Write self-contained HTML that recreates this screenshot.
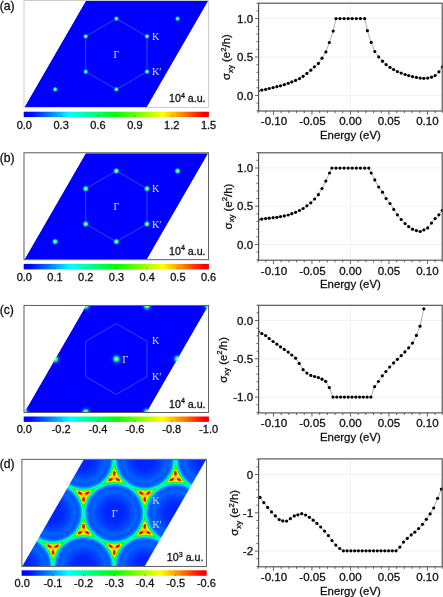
<!DOCTYPE html>
<html lang="en"><head><meta charset="utf-8"><title>Figure</title>
<style>html,body{margin:0;padding:0;background:#fff;}body{width:443px;height:597px;overflow:hidden;}svg{display:block;}text{font-family:"Liberation Sans", Arial, sans-serif;fill:#111;stroke:#111;stroke-width:0.3px;}.sf{font-family:"Liberation Serif", "Times New Roman", serif;fill:#c6e8ff;stroke:none;}</style></head><body>
<svg width="443" height="597" viewBox="0 0 443 597">
<defs>
<linearGradient id="cb" x1="0" y1="0" x2="1" y2="0"><stop offset="0" stop-color="#0000ff"/><stop offset="0.04" stop-color="#0008ff"/><stop offset="0.25" stop-color="#00ffff"/><stop offset="0.5" stop-color="#00ff00"/><stop offset="0.75" stop-color="#ffff00"/><stop offset="0.97" stop-color="#ff0000"/><stop offset="1" stop-color="#f00000"/></linearGradient>
<radialGradient id="dotS"><stop offset="0" stop-color="#f0d800"/><stop offset="0.16" stop-color="#c0ff10"/><stop offset="0.34" stop-color="#30ff70"/><stop offset="0.52" stop-color="#00d8ff" stop-opacity="0.95"/><stop offset="0.74" stop-color="#0070ff" stop-opacity="0.55"/><stop offset="1" stop-color="#0000ff" stop-opacity="0"/></radialGradient>
<radialGradient id="dotL"><stop offset="0" stop-color="#ff9800"/><stop offset="0.10" stop-color="#f4ff00"/><stop offset="0.22" stop-color="#30ff40"/><stop offset="0.34" stop-color="#00e0ff" stop-opacity="0.95"/><stop offset="0.5" stop-color="#0070ff" stop-opacity="0.65"/><stop offset="0.72" stop-color="#0030ff" stop-opacity="0.35"/><stop offset="1" stop-color="#0000ff" stop-opacity="0"/></radialGradient>
<radialGradient id="gd" gradientUnits="objectBoundingBox">
<stop offset="0.0000" stop-color="rgb(10,10,10)"/>
<stop offset="0.1957" stop-color="rgb(10,10,10)"/>
<stop offset="0.3478" stop-color="rgb(17,17,17)"/>
<stop offset="0.4674" stop-color="rgb(26,26,26)"/>
<stop offset="0.5326" stop-color="rgb(22,22,22)"/>
<stop offset="0.5652" stop-color="rgb(24,24,24)"/>
<stop offset="0.5913" stop-color="rgb(32,32,32)"/>
<stop offset="0.6130" stop-color="rgb(43,43,43)"/>
<stop offset="0.6304" stop-color="rgb(54,54,54)"/>
<stop offset="0.6435" stop-color="rgb(71,71,71)"/>
<stop offset="0.6543" stop-color="rgb(89,89,89)"/>
<stop offset="0.6630" stop-color="rgb(105,105,105)"/>
<stop offset="0.6739" stop-color="rgb(112,112,112)"/>
<stop offset="1.0000" stop-color="rgb(112,112,112)"/>
</radialGradient>
<radialGradient id="sp"><stop offset="0" stop-color="#ffffff"/><stop offset="0.3" stop-color="#fbfbfb"/><stop offset="0.6" stop-color="#eeeeee"/><stop offset="0.85" stop-color="#d6d6d6"/><stop offset="1" stop-color="#b0b0b0"/></radialGradient>
<filter id="jet" x="0" y="0" width="1" height="1" color-interpolation-filters="sRGB"><feGaussianBlur stdDeviation="0.75"/><feComponentTransfer><feFuncR type="table" tableValues="0.000 0.000 0.000 0.000 0.000 0.000 0.000 0.000 0.000 0.000 0.000 0.000 0.000 0.000 0.000 0.000 0.000 0.000 0.000 0.000 0.000 0.000 0.000 0.000 0.000 0.000 0.000 0.000 0.000 0.000 0.000 0.000 0.000 0.062 0.125 0.188 0.250 0.312 0.375 0.438 0.500 0.562 0.625 0.688 0.750 0.812 0.875 0.938 1.000 1.000 1.000 1.000 1.000 1.000 1.000 1.000 1.000 1.000 1.000 1.000 1.000 1.000 1.000 0.944 0.882"/><feFuncG type="table" tableValues="0.000 0.060 0.120 0.180 0.240 0.300 0.361 0.421 0.481 0.541 0.601 0.661 0.721 0.781 0.841 0.901 0.962 1.000 1.000 1.000 1.000 1.000 1.000 1.000 1.000 1.000 1.000 1.000 1.000 1.000 1.000 1.000 1.000 1.000 1.000 1.000 1.000 1.000 1.000 1.000 1.000 1.000 1.000 1.000 1.000 1.000 1.000 1.000 1.000 0.929 0.858 0.787 0.716 0.645 0.574 0.503 0.432 0.361 0.290 0.219 0.148 0.077 0.006 0.000 0.000"/><feFuncB type="table" tableValues="1.000 1.000 1.000 1.000 1.000 1.000 1.000 1.000 1.000 1.000 1.000 1.000 1.000 1.000 1.000 1.000 1.000 0.977 0.911 0.846 0.781 0.716 0.651 0.586 0.521 0.456 0.391 0.326 0.260 0.195 0.130 0.065 0.000 0.000 0.000 0.000 0.000 0.000 0.000 0.000 0.000 0.000 0.000 0.000 0.000 0.000 0.000 0.000 0.000 0.000 0.000 0.000 0.000 0.000 0.000 0.000 0.000 0.000 0.000 0.000 0.000 0.000 0.000 0.000 0.000"/><feFuncA type="linear" slope="0" intercept="1"/></feComponentTransfer></filter>
</defs>
<rect x="0" y="0" width="443" height="597" fill="#ffffff"/>
<clipPath id="clp0"><polygon points="85.73,1.00 208.20,1.00 146.97,107.00 24.50,107.00"/></clipPath>
<g clip-path="url(#clp0)">
<polygon points="85.73,1.00 208.20,1.00 146.97,107.00 24.50,107.00" fill="#0000fe"/>
<polygon points="116.35,18.67 146.97,36.33 146.97,71.67 116.35,89.33 85.73,71.67 85.73,36.33" fill="none" stroke="#60a8ff" stroke-opacity="0.6" stroke-width="0.75"/>
<circle cx="116.35" cy="18.67" r="3.1" fill="url(#dotS)"/>
<circle cx="146.97" cy="36.33" r="3.1" fill="url(#dotS)"/>
<circle cx="146.97" cy="71.67" r="3.1" fill="url(#dotS)"/>
<circle cx="116.35" cy="89.33" r="3.1" fill="url(#dotS)"/>
<circle cx="85.73" cy="71.67" r="3.1" fill="url(#dotS)"/>
<circle cx="85.73" cy="36.33" r="3.1" fill="url(#dotS)"/>
<circle cx="177.58" cy="18.67" r="3.1" fill="url(#dotS)"/>
<circle cx="55.12" cy="89.33" r="3.1" fill="url(#dotS)"/>
</g>
<text class="sf" x="116.55" y="57.60" font-size="10.2" text-anchor="middle">Γ</text>
<text class="sf" x="151.97" y="39.93" font-size="10.2">K</text>
<text class="sf" x="151.97" y="75.27" font-size="10.2">K′</text>
<text x="205.60" y="102.40" font-size="10.65" text-anchor="end">10<tspan dy="-4.6" font-size="7.2">4</tspan><tspan dy="4.6"> a.u.</tspan></text>
<rect x="24.00" y="0.50" width="184.60" height="106.90" fill="none" stroke="#c6c6c6" stroke-width="0.9"/>
<text x="-0.3" y="9.50" font-size="12.2" fill="#111">(a)</text>
<rect x="23.70" y="111.70" width="185.20" height="5.40" fill="url(#cb)"/>
<text x="24.30" y="128.70" font-size="11" text-anchor="middle">0.0</text>
<line x1="61.16" y1="115.50" x2="61.16" y2="117.10" stroke="#203040" stroke-opacity="0.7" stroke-width="0.7"/>
<text x="61.16" y="128.70" font-size="11" text-anchor="middle">0.3</text>
<line x1="98.02" y1="115.50" x2="98.02" y2="117.10" stroke="#203040" stroke-opacity="0.7" stroke-width="0.7"/>
<text x="98.02" y="128.70" font-size="11" text-anchor="middle">0.6</text>
<line x1="134.88" y1="115.50" x2="134.88" y2="117.10" stroke="#203040" stroke-opacity="0.7" stroke-width="0.7"/>
<text x="134.88" y="128.70" font-size="11" text-anchor="middle">0.9</text>
<line x1="171.74" y1="115.50" x2="171.74" y2="117.10" stroke="#203040" stroke-opacity="0.7" stroke-width="0.7"/>
<text x="171.74" y="128.70" font-size="11" text-anchor="middle">1.2</text>
<text x="208.60" y="128.70" font-size="11" text-anchor="middle">1.5</text>
<clipPath id="clp1"><polygon points="85.73,153.30 208.20,153.30 146.97,259.30 24.50,259.30"/></clipPath>
<g clip-path="url(#clp1)">
<polygon points="85.73,153.30 208.20,153.30 146.97,259.30 24.50,259.30" fill="#0000fe"/>
<polygon points="116.35,170.97 146.97,188.63 146.97,223.97 116.35,241.63 85.73,223.97 85.73,188.63" fill="none" stroke="#60a8ff" stroke-opacity="0.6" stroke-width="0.75"/>
<circle cx="116.35" cy="170.97" r="3.8" fill="url(#dotS)"/>
<circle cx="146.97" cy="188.63" r="3.8" fill="url(#dotS)"/>
<circle cx="146.97" cy="223.97" r="3.8" fill="url(#dotS)"/>
<circle cx="116.35" cy="241.63" r="3.8" fill="url(#dotS)"/>
<circle cx="85.73" cy="223.97" r="3.8" fill="url(#dotS)"/>
<circle cx="85.73" cy="188.63" r="3.8" fill="url(#dotS)"/>
<circle cx="177.58" cy="170.97" r="3.8" fill="url(#dotS)"/>
<circle cx="55.12" cy="241.63" r="3.8" fill="url(#dotS)"/>
</g>
<text class="sf" x="116.55" y="209.90" font-size="10.2" text-anchor="middle">Γ</text>
<text class="sf" x="151.97" y="192.23" font-size="10.2">K</text>
<text class="sf" x="151.97" y="227.57" font-size="10.2">K′</text>
<text x="205.60" y="254.70" font-size="10.65" text-anchor="end">10<tspan dy="-4.6" font-size="7.2">4</tspan><tspan dy="4.6"> a.u.</tspan></text>
<rect x="24.00" y="152.80" width="184.60" height="106.90" fill="none" stroke="#4a4a4a" stroke-width="0.9"/>
<text x="-0.3" y="161.80" font-size="12.2" fill="#111">(b)</text>
<rect x="23.70" y="263.90" width="185.20" height="5.50" fill="url(#cb)"/>
<text x="24.30" y="280.50" font-size="11" text-anchor="middle">0.0</text>
<line x1="55.02" y1="267.80" x2="55.02" y2="269.40" stroke="#203040" stroke-opacity="0.7" stroke-width="0.7"/>
<text x="55.02" y="280.50" font-size="11" text-anchor="middle">0.1</text>
<line x1="85.73" y1="267.80" x2="85.73" y2="269.40" stroke="#203040" stroke-opacity="0.7" stroke-width="0.7"/>
<text x="85.73" y="280.50" font-size="11" text-anchor="middle">0.2</text>
<line x1="116.45" y1="267.80" x2="116.45" y2="269.40" stroke="#203040" stroke-opacity="0.7" stroke-width="0.7"/>
<text x="116.45" y="280.50" font-size="11" text-anchor="middle">0.3</text>
<line x1="147.17" y1="267.80" x2="147.17" y2="269.40" stroke="#203040" stroke-opacity="0.7" stroke-width="0.7"/>
<text x="147.17" y="280.50" font-size="11" text-anchor="middle">0.4</text>
<line x1="177.88" y1="267.80" x2="177.88" y2="269.40" stroke="#203040" stroke-opacity="0.7" stroke-width="0.7"/>
<text x="177.88" y="280.50" font-size="11" text-anchor="middle">0.5</text>
<text x="208.60" y="280.50" font-size="11" text-anchor="middle">0.6</text>
<clipPath id="clp2"><polygon points="85.73,305.90 208.20,305.90 146.97,412.10 24.50,412.10"/></clipPath>
<g clip-path="url(#clp2)">
<polygon points="85.73,305.90 208.20,305.90 146.97,412.10 24.50,412.10" fill="#0000fe"/>
<polygon points="116.35,323.60 146.97,341.30 146.97,376.70 116.35,394.40 85.73,376.70 85.73,341.30" fill="none" stroke="#60a8ff" stroke-opacity="0.6" stroke-width="0.75"/>
<circle cx="-97.97" cy="305.90" r="7.2" fill="url(#dotL)"/>
<circle cx="-36.73" cy="305.90" r="7.2" fill="url(#dotL)"/>
<circle cx="24.50" cy="305.90" r="7.2" fill="url(#dotL)"/>
<circle cx="85.73" cy="305.90" r="7.2" fill="url(#dotL)"/>
<circle cx="146.97" cy="305.90" r="7.2" fill="url(#dotL)"/>
<circle cx="208.20" cy="305.90" r="7.2" fill="url(#dotL)"/>
<circle cx="269.43" cy="305.90" r="7.2" fill="url(#dotL)"/>
<circle cx="-67.35" cy="359.00" r="7.2" fill="url(#dotL)"/>
<circle cx="-6.12" cy="359.00" r="7.2" fill="url(#dotL)"/>
<circle cx="55.12" cy="359.00" r="7.2" fill="url(#dotL)"/>
<circle cx="116.35" cy="359.00" r="7.2" fill="url(#dotL)"/>
<circle cx="177.58" cy="359.00" r="7.2" fill="url(#dotL)"/>
<circle cx="238.82" cy="359.00" r="7.2" fill="url(#dotL)"/>
<circle cx="300.05" cy="359.00" r="7.2" fill="url(#dotL)"/>
<circle cx="-36.73" cy="412.10" r="7.2" fill="url(#dotL)"/>
<circle cx="24.50" cy="412.10" r="7.2" fill="url(#dotL)"/>
<circle cx="85.73" cy="412.10" r="7.2" fill="url(#dotL)"/>
<circle cx="146.97" cy="412.10" r="7.2" fill="url(#dotL)"/>
<circle cx="208.20" cy="412.10" r="7.2" fill="url(#dotL)"/>
<circle cx="269.43" cy="412.10" r="7.2" fill="url(#dotL)"/>
<circle cx="330.67" cy="412.10" r="7.2" fill="url(#dotL)"/>
</g>
<text class="sf" x="122.35" y="363.00" font-size="10.2">Γ</text>
<text class="sf" x="151.97" y="344.30" font-size="10.2">K</text>
<text class="sf" x="151.97" y="379.70" font-size="10.2">K′</text>
<text x="205.60" y="407.50" font-size="10.65" text-anchor="end">10<tspan dy="-4.6" font-size="7.2">4</tspan><tspan dy="4.6"> a.u.</tspan></text>
<rect x="24.00" y="305.40" width="184.60" height="107.10" fill="none" stroke="#4a4a4a" stroke-width="0.9"/>
<text x="-0.3" y="314.40" font-size="12.2" fill="#111">(c)</text>
<rect x="23.70" y="416.50" width="185.20" height="5.40" fill="url(#cb)"/>
<text x="24.30" y="432.80" font-size="11" text-anchor="middle">0.0</text>
<line x1="61.16" y1="420.30" x2="61.16" y2="421.90" stroke="#203040" stroke-opacity="0.7" stroke-width="0.7"/>
<text x="61.16" y="432.80" font-size="11" text-anchor="middle">-0.2</text>
<line x1="98.02" y1="420.30" x2="98.02" y2="421.90" stroke="#203040" stroke-opacity="0.7" stroke-width="0.7"/>
<text x="98.02" y="432.80" font-size="11" text-anchor="middle">-0.4</text>
<line x1="134.88" y1="420.30" x2="134.88" y2="421.90" stroke="#203040" stroke-opacity="0.7" stroke-width="0.7"/>
<text x="134.88" y="432.80" font-size="11" text-anchor="middle">-0.6</text>
<line x1="171.74" y1="420.30" x2="171.74" y2="421.90" stroke="#203040" stroke-opacity="0.7" stroke-width="0.7"/>
<text x="171.74" y="432.80" font-size="11" text-anchor="middle">-0.8</text>
<text x="208.60" y="432.80" font-size="11" text-anchor="middle">-1.0</text>
<clipPath id="clp3"><polygon points="83.60,459.80 206.00,459.80 144.80,566.00 22.40,566.00"/></clipPath>
<g clip-path="url(#clp3)">
<g filter="url(#jet)">
<rect x="17.90" y="455.30" width="192.50" height="115.10" fill="#dcdcdc"/>
<circle cx="22.40" cy="459.80" r="46.0" fill="url(#gd)" style="mix-blend-mode:darken"/>
<circle cx="83.60" cy="459.80" r="46.0" fill="url(#gd)" style="mix-blend-mode:darken"/>
<circle cx="144.80" cy="459.80" r="46.0" fill="url(#gd)" style="mix-blend-mode:darken"/>
<circle cx="206.00" cy="459.80" r="46.0" fill="url(#gd)" style="mix-blend-mode:darken"/>
<circle cx="-8.20" cy="512.90" r="46.0" fill="url(#gd)" style="mix-blend-mode:darken"/>
<circle cx="53.00" cy="512.90" r="46.0" fill="url(#gd)" style="mix-blend-mode:darken"/>
<circle cx="114.20" cy="512.90" r="46.0" fill="url(#gd)" style="mix-blend-mode:darken"/>
<circle cx="175.40" cy="512.90" r="46.0" fill="url(#gd)" style="mix-blend-mode:darken"/>
<circle cx="236.60" cy="512.90" r="46.0" fill="url(#gd)" style="mix-blend-mode:darken"/>
<circle cx="22.40" cy="566.00" r="46.0" fill="url(#gd)" style="mix-blend-mode:darken"/>
<circle cx="83.60" cy="566.00" r="46.0" fill="url(#gd)" style="mix-blend-mode:darken"/>
<circle cx="144.80" cy="566.00" r="46.0" fill="url(#gd)" style="mix-blend-mode:darken"/>
<circle cx="206.00" cy="566.00" r="46.0" fill="url(#gd)" style="mix-blend-mode:darken"/>
<path d="M0 1Q0.303 0.175 0.866 -0.5Q0 -0.35 -0.866 -0.5Q-0.303 0.175 0 1Z" transform="translate(22.40 495.20) scale(13.20 13.20)" fill="rgb(122,122,122)" style="mix-blend-mode:lighten"/>
<path d="M0 1Q0.303 0.175 0.866 -0.5Q0 -0.35 -0.866 -0.5Q-0.303 0.175 0 1Z" transform="translate(22.40 495.20) scale(12.00 12.00)" fill="rgb(135,135,135)" style="mix-blend-mode:lighten"/>
<path d="M0 1Q0.303 0.175 0.866 -0.5Q0 -0.35 -0.866 -0.5Q-0.303 0.175 0 1Z" transform="translate(22.40 495.20) scale(10.80 10.80)" fill="rgb(153,153,153)" style="mix-blend-mode:lighten"/>
<path d="M0 1Q0.303 0.175 0.866 -0.5Q0 -0.35 -0.866 -0.5Q-0.303 0.175 0 1Z" transform="translate(22.40 495.20) scale(9.70 9.70)" fill="rgb(171,171,171)" style="mix-blend-mode:lighten"/>
<path d="M0 1Q0.303 0.175 0.866 -0.5Q0 -0.35 -0.866 -0.5Q-0.303 0.175 0 1Z" transform="translate(22.40 495.20) scale(8.60 8.60)" fill="rgb(184,184,184)" style="mix-blend-mode:lighten"/>
<path d="M0 1Q0.303 0.175 0.866 -0.5Q0 -0.35 -0.866 -0.5Q-0.303 0.175 0 1Z" transform="translate(22.40 495.20) scale(7.40 7.40)" fill="rgb(194,194,194)" style="mix-blend-mode:lighten"/>
<path d="M0 1Q0.303 0.175 0.866 -0.5Q0 -0.35 -0.866 -0.5Q-0.303 0.175 0 1Z" transform="translate(22.40 495.20) scale(6.00 6.00)" fill="rgb(204,204,204)" style="mix-blend-mode:lighten"/>
<ellipse cx="0" cy="0" rx="1.80" ry="3.20" transform="translate(22.40 499.40) rotate(0)" fill="url(#sp)" style="mix-blend-mode:lighten"/>
<ellipse cx="0" cy="0" rx="1.80" ry="3.20" transform="translate(26.04 493.10) rotate(-120)" fill="url(#sp)" style="mix-blend-mode:lighten"/>
<ellipse cx="0" cy="0" rx="1.80" ry="3.20" transform="translate(18.76 493.10) rotate(-240)" fill="url(#sp)" style="mix-blend-mode:lighten"/>
<path d="M0 1Q0.303 0.175 0.866 -0.5Q0 -0.35 -0.866 -0.5Q-0.303 0.175 0 1Z" transform="translate(83.60 495.20) scale(13.20 13.20)" fill="rgb(122,122,122)" style="mix-blend-mode:lighten"/>
<path d="M0 1Q0.303 0.175 0.866 -0.5Q0 -0.35 -0.866 -0.5Q-0.303 0.175 0 1Z" transform="translate(83.60 495.20) scale(12.00 12.00)" fill="rgb(135,135,135)" style="mix-blend-mode:lighten"/>
<path d="M0 1Q0.303 0.175 0.866 -0.5Q0 -0.35 -0.866 -0.5Q-0.303 0.175 0 1Z" transform="translate(83.60 495.20) scale(10.80 10.80)" fill="rgb(153,153,153)" style="mix-blend-mode:lighten"/>
<path d="M0 1Q0.303 0.175 0.866 -0.5Q0 -0.35 -0.866 -0.5Q-0.303 0.175 0 1Z" transform="translate(83.60 495.20) scale(9.70 9.70)" fill="rgb(171,171,171)" style="mix-blend-mode:lighten"/>
<path d="M0 1Q0.303 0.175 0.866 -0.5Q0 -0.35 -0.866 -0.5Q-0.303 0.175 0 1Z" transform="translate(83.60 495.20) scale(8.60 8.60)" fill="rgb(184,184,184)" style="mix-blend-mode:lighten"/>
<path d="M0 1Q0.303 0.175 0.866 -0.5Q0 -0.35 -0.866 -0.5Q-0.303 0.175 0 1Z" transform="translate(83.60 495.20) scale(7.40 7.40)" fill="rgb(194,194,194)" style="mix-blend-mode:lighten"/>
<path d="M0 1Q0.303 0.175 0.866 -0.5Q0 -0.35 -0.866 -0.5Q-0.303 0.175 0 1Z" transform="translate(83.60 495.20) scale(6.00 6.00)" fill="rgb(204,204,204)" style="mix-blend-mode:lighten"/>
<ellipse cx="0" cy="0" rx="1.80" ry="3.20" transform="translate(83.60 499.40) rotate(0)" fill="url(#sp)" style="mix-blend-mode:lighten"/>
<ellipse cx="0" cy="0" rx="1.80" ry="3.20" transform="translate(87.24 493.10) rotate(-120)" fill="url(#sp)" style="mix-blend-mode:lighten"/>
<ellipse cx="0" cy="0" rx="1.80" ry="3.20" transform="translate(79.96 493.10) rotate(-240)" fill="url(#sp)" style="mix-blend-mode:lighten"/>
<path d="M0 1Q0.303 0.175 0.866 -0.5Q0 -0.35 -0.866 -0.5Q-0.303 0.175 0 1Z" transform="translate(144.80 495.20) scale(13.20 13.20)" fill="rgb(122,122,122)" style="mix-blend-mode:lighten"/>
<path d="M0 1Q0.303 0.175 0.866 -0.5Q0 -0.35 -0.866 -0.5Q-0.303 0.175 0 1Z" transform="translate(144.80 495.20) scale(12.00 12.00)" fill="rgb(135,135,135)" style="mix-blend-mode:lighten"/>
<path d="M0 1Q0.303 0.175 0.866 -0.5Q0 -0.35 -0.866 -0.5Q-0.303 0.175 0 1Z" transform="translate(144.80 495.20) scale(10.80 10.80)" fill="rgb(153,153,153)" style="mix-blend-mode:lighten"/>
<path d="M0 1Q0.303 0.175 0.866 -0.5Q0 -0.35 -0.866 -0.5Q-0.303 0.175 0 1Z" transform="translate(144.80 495.20) scale(9.70 9.70)" fill="rgb(171,171,171)" style="mix-blend-mode:lighten"/>
<path d="M0 1Q0.303 0.175 0.866 -0.5Q0 -0.35 -0.866 -0.5Q-0.303 0.175 0 1Z" transform="translate(144.80 495.20) scale(8.60 8.60)" fill="rgb(184,184,184)" style="mix-blend-mode:lighten"/>
<path d="M0 1Q0.303 0.175 0.866 -0.5Q0 -0.35 -0.866 -0.5Q-0.303 0.175 0 1Z" transform="translate(144.80 495.20) scale(7.40 7.40)" fill="rgb(194,194,194)" style="mix-blend-mode:lighten"/>
<path d="M0 1Q0.303 0.175 0.866 -0.5Q0 -0.35 -0.866 -0.5Q-0.303 0.175 0 1Z" transform="translate(144.80 495.20) scale(6.00 6.00)" fill="rgb(204,204,204)" style="mix-blend-mode:lighten"/>
<ellipse cx="0" cy="0" rx="1.80" ry="3.20" transform="translate(144.80 499.40) rotate(0)" fill="url(#sp)" style="mix-blend-mode:lighten"/>
<ellipse cx="0" cy="0" rx="1.80" ry="3.20" transform="translate(148.44 493.10) rotate(-120)" fill="url(#sp)" style="mix-blend-mode:lighten"/>
<ellipse cx="0" cy="0" rx="1.80" ry="3.20" transform="translate(141.16 493.10) rotate(-240)" fill="url(#sp)" style="mix-blend-mode:lighten"/>
<path d="M0 1Q0.303 0.175 0.866 -0.5Q0 -0.35 -0.866 -0.5Q-0.303 0.175 0 1Z" transform="translate(206.00 495.20) scale(13.20 13.20)" fill="rgb(122,122,122)" style="mix-blend-mode:lighten"/>
<path d="M0 1Q0.303 0.175 0.866 -0.5Q0 -0.35 -0.866 -0.5Q-0.303 0.175 0 1Z" transform="translate(206.00 495.20) scale(12.00 12.00)" fill="rgb(135,135,135)" style="mix-blend-mode:lighten"/>
<path d="M0 1Q0.303 0.175 0.866 -0.5Q0 -0.35 -0.866 -0.5Q-0.303 0.175 0 1Z" transform="translate(206.00 495.20) scale(10.80 10.80)" fill="rgb(153,153,153)" style="mix-blend-mode:lighten"/>
<path d="M0 1Q0.303 0.175 0.866 -0.5Q0 -0.35 -0.866 -0.5Q-0.303 0.175 0 1Z" transform="translate(206.00 495.20) scale(9.70 9.70)" fill="rgb(171,171,171)" style="mix-blend-mode:lighten"/>
<path d="M0 1Q0.303 0.175 0.866 -0.5Q0 -0.35 -0.866 -0.5Q-0.303 0.175 0 1Z" transform="translate(206.00 495.20) scale(8.60 8.60)" fill="rgb(184,184,184)" style="mix-blend-mode:lighten"/>
<path d="M0 1Q0.303 0.175 0.866 -0.5Q0 -0.35 -0.866 -0.5Q-0.303 0.175 0 1Z" transform="translate(206.00 495.20) scale(7.40 7.40)" fill="rgb(194,194,194)" style="mix-blend-mode:lighten"/>
<path d="M0 1Q0.303 0.175 0.866 -0.5Q0 -0.35 -0.866 -0.5Q-0.303 0.175 0 1Z" transform="translate(206.00 495.20) scale(6.00 6.00)" fill="rgb(204,204,204)" style="mix-blend-mode:lighten"/>
<ellipse cx="0" cy="0" rx="1.80" ry="3.20" transform="translate(206.00 499.40) rotate(0)" fill="url(#sp)" style="mix-blend-mode:lighten"/>
<ellipse cx="0" cy="0" rx="1.80" ry="3.20" transform="translate(209.64 493.10) rotate(-120)" fill="url(#sp)" style="mix-blend-mode:lighten"/>
<ellipse cx="0" cy="0" rx="1.80" ry="3.20" transform="translate(202.36 493.10) rotate(-240)" fill="url(#sp)" style="mix-blend-mode:lighten"/>
<path d="M0 1Q0.303 0.175 0.866 -0.5Q0 -0.35 -0.866 -0.5Q-0.303 0.175 0 1Z" transform="translate(53.00 548.30) scale(13.20 13.20)" fill="rgb(122,122,122)" style="mix-blend-mode:lighten"/>
<path d="M0 1Q0.303 0.175 0.866 -0.5Q0 -0.35 -0.866 -0.5Q-0.303 0.175 0 1Z" transform="translate(53.00 548.30) scale(12.00 12.00)" fill="rgb(135,135,135)" style="mix-blend-mode:lighten"/>
<path d="M0 1Q0.303 0.175 0.866 -0.5Q0 -0.35 -0.866 -0.5Q-0.303 0.175 0 1Z" transform="translate(53.00 548.30) scale(10.80 10.80)" fill="rgb(153,153,153)" style="mix-blend-mode:lighten"/>
<path d="M0 1Q0.303 0.175 0.866 -0.5Q0 -0.35 -0.866 -0.5Q-0.303 0.175 0 1Z" transform="translate(53.00 548.30) scale(9.70 9.70)" fill="rgb(171,171,171)" style="mix-blend-mode:lighten"/>
<path d="M0 1Q0.303 0.175 0.866 -0.5Q0 -0.35 -0.866 -0.5Q-0.303 0.175 0 1Z" transform="translate(53.00 548.30) scale(8.60 8.60)" fill="rgb(184,184,184)" style="mix-blend-mode:lighten"/>
<path d="M0 1Q0.303 0.175 0.866 -0.5Q0 -0.35 -0.866 -0.5Q-0.303 0.175 0 1Z" transform="translate(53.00 548.30) scale(7.40 7.40)" fill="rgb(194,194,194)" style="mix-blend-mode:lighten"/>
<path d="M0 1Q0.303 0.175 0.866 -0.5Q0 -0.35 -0.866 -0.5Q-0.303 0.175 0 1Z" transform="translate(53.00 548.30) scale(6.00 6.00)" fill="rgb(204,204,204)" style="mix-blend-mode:lighten"/>
<ellipse cx="0" cy="0" rx="1.80" ry="3.20" transform="translate(53.00 552.50) rotate(0)" fill="url(#sp)" style="mix-blend-mode:lighten"/>
<ellipse cx="0" cy="0" rx="1.80" ry="3.20" transform="translate(56.64 546.20) rotate(-120)" fill="url(#sp)" style="mix-blend-mode:lighten"/>
<ellipse cx="0" cy="0" rx="1.80" ry="3.20" transform="translate(49.36 546.20) rotate(-240)" fill="url(#sp)" style="mix-blend-mode:lighten"/>
<path d="M0 1Q0.303 0.175 0.866 -0.5Q0 -0.35 -0.866 -0.5Q-0.303 0.175 0 1Z" transform="translate(53.00 477.50) scale(13.20 -13.20)" fill="rgb(122,122,122)" style="mix-blend-mode:lighten"/>
<path d="M0 1Q0.303 0.175 0.866 -0.5Q0 -0.35 -0.866 -0.5Q-0.303 0.175 0 1Z" transform="translate(53.00 477.50) scale(12.00 -12.00)" fill="rgb(135,135,135)" style="mix-blend-mode:lighten"/>
<path d="M0 1Q0.303 0.175 0.866 -0.5Q0 -0.35 -0.866 -0.5Q-0.303 0.175 0 1Z" transform="translate(53.00 477.50) scale(10.80 -10.80)" fill="rgb(153,153,153)" style="mix-blend-mode:lighten"/>
<path d="M0 1Q0.303 0.175 0.866 -0.5Q0 -0.35 -0.866 -0.5Q-0.303 0.175 0 1Z" transform="translate(53.00 477.50) scale(9.70 -9.70)" fill="rgb(171,171,171)" style="mix-blend-mode:lighten"/>
<path d="M0 1Q0.303 0.175 0.866 -0.5Q0 -0.35 -0.866 -0.5Q-0.303 0.175 0 1Z" transform="translate(53.00 477.50) scale(8.60 -8.60)" fill="rgb(184,184,184)" style="mix-blend-mode:lighten"/>
<path d="M0 1Q0.303 0.175 0.866 -0.5Q0 -0.35 -0.866 -0.5Q-0.303 0.175 0 1Z" transform="translate(53.00 477.50) scale(7.40 -7.40)" fill="rgb(194,194,194)" style="mix-blend-mode:lighten"/>
<path d="M0 1Q0.303 0.175 0.866 -0.5Q0 -0.35 -0.866 -0.5Q-0.303 0.175 0 1Z" transform="translate(53.00 477.50) scale(6.00 -6.00)" fill="rgb(204,204,204)" style="mix-blend-mode:lighten"/>
<ellipse cx="0" cy="0" rx="1.80" ry="3.20" transform="translate(53.00 473.30) rotate(0)" fill="url(#sp)" style="mix-blend-mode:lighten"/>
<ellipse cx="0" cy="0" rx="1.80" ry="3.20" transform="translate(56.64 479.60) rotate(120)" fill="url(#sp)" style="mix-blend-mode:lighten"/>
<ellipse cx="0" cy="0" rx="1.80" ry="3.20" transform="translate(49.36 479.60) rotate(240)" fill="url(#sp)" style="mix-blend-mode:lighten"/>
<path d="M0 1Q0.303 0.175 0.866 -0.5Q0 -0.35 -0.866 -0.5Q-0.303 0.175 0 1Z" transform="translate(114.20 548.30) scale(13.20 13.20)" fill="rgb(122,122,122)" style="mix-blend-mode:lighten"/>
<path d="M0 1Q0.303 0.175 0.866 -0.5Q0 -0.35 -0.866 -0.5Q-0.303 0.175 0 1Z" transform="translate(114.20 548.30) scale(12.00 12.00)" fill="rgb(135,135,135)" style="mix-blend-mode:lighten"/>
<path d="M0 1Q0.303 0.175 0.866 -0.5Q0 -0.35 -0.866 -0.5Q-0.303 0.175 0 1Z" transform="translate(114.20 548.30) scale(10.80 10.80)" fill="rgb(153,153,153)" style="mix-blend-mode:lighten"/>
<path d="M0 1Q0.303 0.175 0.866 -0.5Q0 -0.35 -0.866 -0.5Q-0.303 0.175 0 1Z" transform="translate(114.20 548.30) scale(9.70 9.70)" fill="rgb(171,171,171)" style="mix-blend-mode:lighten"/>
<path d="M0 1Q0.303 0.175 0.866 -0.5Q0 -0.35 -0.866 -0.5Q-0.303 0.175 0 1Z" transform="translate(114.20 548.30) scale(8.60 8.60)" fill="rgb(184,184,184)" style="mix-blend-mode:lighten"/>
<path d="M0 1Q0.303 0.175 0.866 -0.5Q0 -0.35 -0.866 -0.5Q-0.303 0.175 0 1Z" transform="translate(114.20 548.30) scale(7.40 7.40)" fill="rgb(194,194,194)" style="mix-blend-mode:lighten"/>
<path d="M0 1Q0.303 0.175 0.866 -0.5Q0 -0.35 -0.866 -0.5Q-0.303 0.175 0 1Z" transform="translate(114.20 548.30) scale(6.00 6.00)" fill="rgb(204,204,204)" style="mix-blend-mode:lighten"/>
<ellipse cx="0" cy="0" rx="1.80" ry="3.20" transform="translate(114.20 552.50) rotate(0)" fill="url(#sp)" style="mix-blend-mode:lighten"/>
<ellipse cx="0" cy="0" rx="1.80" ry="3.20" transform="translate(117.84 546.20) rotate(-120)" fill="url(#sp)" style="mix-blend-mode:lighten"/>
<ellipse cx="0" cy="0" rx="1.80" ry="3.20" transform="translate(110.56 546.20) rotate(-240)" fill="url(#sp)" style="mix-blend-mode:lighten"/>
<path d="M0 1Q0.303 0.175 0.866 -0.5Q0 -0.35 -0.866 -0.5Q-0.303 0.175 0 1Z" transform="translate(114.20 477.50) scale(13.20 -13.20)" fill="rgb(122,122,122)" style="mix-blend-mode:lighten"/>
<path d="M0 1Q0.303 0.175 0.866 -0.5Q0 -0.35 -0.866 -0.5Q-0.303 0.175 0 1Z" transform="translate(114.20 477.50) scale(12.00 -12.00)" fill="rgb(135,135,135)" style="mix-blend-mode:lighten"/>
<path d="M0 1Q0.303 0.175 0.866 -0.5Q0 -0.35 -0.866 -0.5Q-0.303 0.175 0 1Z" transform="translate(114.20 477.50) scale(10.80 -10.80)" fill="rgb(153,153,153)" style="mix-blend-mode:lighten"/>
<path d="M0 1Q0.303 0.175 0.866 -0.5Q0 -0.35 -0.866 -0.5Q-0.303 0.175 0 1Z" transform="translate(114.20 477.50) scale(9.70 -9.70)" fill="rgb(171,171,171)" style="mix-blend-mode:lighten"/>
<path d="M0 1Q0.303 0.175 0.866 -0.5Q0 -0.35 -0.866 -0.5Q-0.303 0.175 0 1Z" transform="translate(114.20 477.50) scale(8.60 -8.60)" fill="rgb(184,184,184)" style="mix-blend-mode:lighten"/>
<path d="M0 1Q0.303 0.175 0.866 -0.5Q0 -0.35 -0.866 -0.5Q-0.303 0.175 0 1Z" transform="translate(114.20 477.50) scale(7.40 -7.40)" fill="rgb(194,194,194)" style="mix-blend-mode:lighten"/>
<path d="M0 1Q0.303 0.175 0.866 -0.5Q0 -0.35 -0.866 -0.5Q-0.303 0.175 0 1Z" transform="translate(114.20 477.50) scale(6.00 -6.00)" fill="rgb(204,204,204)" style="mix-blend-mode:lighten"/>
<ellipse cx="0" cy="0" rx="1.80" ry="3.20" transform="translate(114.20 473.30) rotate(0)" fill="url(#sp)" style="mix-blend-mode:lighten"/>
<ellipse cx="0" cy="0" rx="1.80" ry="3.20" transform="translate(117.84 479.60) rotate(120)" fill="url(#sp)" style="mix-blend-mode:lighten"/>
<ellipse cx="0" cy="0" rx="1.80" ry="3.20" transform="translate(110.56 479.60) rotate(240)" fill="url(#sp)" style="mix-blend-mode:lighten"/>
<path d="M0 1Q0.303 0.175 0.866 -0.5Q0 -0.35 -0.866 -0.5Q-0.303 0.175 0 1Z" transform="translate(175.40 548.30) scale(13.20 13.20)" fill="rgb(122,122,122)" style="mix-blend-mode:lighten"/>
<path d="M0 1Q0.303 0.175 0.866 -0.5Q0 -0.35 -0.866 -0.5Q-0.303 0.175 0 1Z" transform="translate(175.40 548.30) scale(12.00 12.00)" fill="rgb(135,135,135)" style="mix-blend-mode:lighten"/>
<path d="M0 1Q0.303 0.175 0.866 -0.5Q0 -0.35 -0.866 -0.5Q-0.303 0.175 0 1Z" transform="translate(175.40 548.30) scale(10.80 10.80)" fill="rgb(153,153,153)" style="mix-blend-mode:lighten"/>
<path d="M0 1Q0.303 0.175 0.866 -0.5Q0 -0.35 -0.866 -0.5Q-0.303 0.175 0 1Z" transform="translate(175.40 548.30) scale(9.70 9.70)" fill="rgb(171,171,171)" style="mix-blend-mode:lighten"/>
<path d="M0 1Q0.303 0.175 0.866 -0.5Q0 -0.35 -0.866 -0.5Q-0.303 0.175 0 1Z" transform="translate(175.40 548.30) scale(8.60 8.60)" fill="rgb(184,184,184)" style="mix-blend-mode:lighten"/>
<path d="M0 1Q0.303 0.175 0.866 -0.5Q0 -0.35 -0.866 -0.5Q-0.303 0.175 0 1Z" transform="translate(175.40 548.30) scale(7.40 7.40)" fill="rgb(194,194,194)" style="mix-blend-mode:lighten"/>
<path d="M0 1Q0.303 0.175 0.866 -0.5Q0 -0.35 -0.866 -0.5Q-0.303 0.175 0 1Z" transform="translate(175.40 548.30) scale(6.00 6.00)" fill="rgb(204,204,204)" style="mix-blend-mode:lighten"/>
<ellipse cx="0" cy="0" rx="1.80" ry="3.20" transform="translate(175.40 552.50) rotate(0)" fill="url(#sp)" style="mix-blend-mode:lighten"/>
<ellipse cx="0" cy="0" rx="1.80" ry="3.20" transform="translate(179.04 546.20) rotate(-120)" fill="url(#sp)" style="mix-blend-mode:lighten"/>
<ellipse cx="0" cy="0" rx="1.80" ry="3.20" transform="translate(171.76 546.20) rotate(-240)" fill="url(#sp)" style="mix-blend-mode:lighten"/>
<path d="M0 1Q0.303 0.175 0.866 -0.5Q0 -0.35 -0.866 -0.5Q-0.303 0.175 0 1Z" transform="translate(175.40 477.50) scale(13.20 -13.20)" fill="rgb(122,122,122)" style="mix-blend-mode:lighten"/>
<path d="M0 1Q0.303 0.175 0.866 -0.5Q0 -0.35 -0.866 -0.5Q-0.303 0.175 0 1Z" transform="translate(175.40 477.50) scale(12.00 -12.00)" fill="rgb(135,135,135)" style="mix-blend-mode:lighten"/>
<path d="M0 1Q0.303 0.175 0.866 -0.5Q0 -0.35 -0.866 -0.5Q-0.303 0.175 0 1Z" transform="translate(175.40 477.50) scale(10.80 -10.80)" fill="rgb(153,153,153)" style="mix-blend-mode:lighten"/>
<path d="M0 1Q0.303 0.175 0.866 -0.5Q0 -0.35 -0.866 -0.5Q-0.303 0.175 0 1Z" transform="translate(175.40 477.50) scale(9.70 -9.70)" fill="rgb(171,171,171)" style="mix-blend-mode:lighten"/>
<path d="M0 1Q0.303 0.175 0.866 -0.5Q0 -0.35 -0.866 -0.5Q-0.303 0.175 0 1Z" transform="translate(175.40 477.50) scale(8.60 -8.60)" fill="rgb(184,184,184)" style="mix-blend-mode:lighten"/>
<path d="M0 1Q0.303 0.175 0.866 -0.5Q0 -0.35 -0.866 -0.5Q-0.303 0.175 0 1Z" transform="translate(175.40 477.50) scale(7.40 -7.40)" fill="rgb(194,194,194)" style="mix-blend-mode:lighten"/>
<path d="M0 1Q0.303 0.175 0.866 -0.5Q0 -0.35 -0.866 -0.5Q-0.303 0.175 0 1Z" transform="translate(175.40 477.50) scale(6.00 -6.00)" fill="rgb(204,204,204)" style="mix-blend-mode:lighten"/>
<ellipse cx="0" cy="0" rx="1.80" ry="3.20" transform="translate(175.40 473.30) rotate(0)" fill="url(#sp)" style="mix-blend-mode:lighten"/>
<ellipse cx="0" cy="0" rx="1.80" ry="3.20" transform="translate(179.04 479.60) rotate(120)" fill="url(#sp)" style="mix-blend-mode:lighten"/>
<ellipse cx="0" cy="0" rx="1.80" ry="3.20" transform="translate(171.76 479.60) rotate(240)" fill="url(#sp)" style="mix-blend-mode:lighten"/>
<path d="M0 1Q0.303 0.175 0.866 -0.5Q0 -0.35 -0.866 -0.5Q-0.303 0.175 0 1Z" transform="translate(22.40 530.60) scale(13.20 -13.20)" fill="rgb(122,122,122)" style="mix-blend-mode:lighten"/>
<path d="M0 1Q0.303 0.175 0.866 -0.5Q0 -0.35 -0.866 -0.5Q-0.303 0.175 0 1Z" transform="translate(22.40 530.60) scale(12.00 -12.00)" fill="rgb(135,135,135)" style="mix-blend-mode:lighten"/>
<path d="M0 1Q0.303 0.175 0.866 -0.5Q0 -0.35 -0.866 -0.5Q-0.303 0.175 0 1Z" transform="translate(22.40 530.60) scale(10.80 -10.80)" fill="rgb(153,153,153)" style="mix-blend-mode:lighten"/>
<path d="M0 1Q0.303 0.175 0.866 -0.5Q0 -0.35 -0.866 -0.5Q-0.303 0.175 0 1Z" transform="translate(22.40 530.60) scale(9.70 -9.70)" fill="rgb(171,171,171)" style="mix-blend-mode:lighten"/>
<path d="M0 1Q0.303 0.175 0.866 -0.5Q0 -0.35 -0.866 -0.5Q-0.303 0.175 0 1Z" transform="translate(22.40 530.60) scale(8.60 -8.60)" fill="rgb(184,184,184)" style="mix-blend-mode:lighten"/>
<path d="M0 1Q0.303 0.175 0.866 -0.5Q0 -0.35 -0.866 -0.5Q-0.303 0.175 0 1Z" transform="translate(22.40 530.60) scale(7.40 -7.40)" fill="rgb(194,194,194)" style="mix-blend-mode:lighten"/>
<path d="M0 1Q0.303 0.175 0.866 -0.5Q0 -0.35 -0.866 -0.5Q-0.303 0.175 0 1Z" transform="translate(22.40 530.60) scale(6.00 -6.00)" fill="rgb(204,204,204)" style="mix-blend-mode:lighten"/>
<ellipse cx="0" cy="0" rx="1.80" ry="3.20" transform="translate(22.40 526.40) rotate(0)" fill="url(#sp)" style="mix-blend-mode:lighten"/>
<ellipse cx="0" cy="0" rx="1.80" ry="3.20" transform="translate(26.04 532.70) rotate(120)" fill="url(#sp)" style="mix-blend-mode:lighten"/>
<ellipse cx="0" cy="0" rx="1.80" ry="3.20" transform="translate(18.76 532.70) rotate(240)" fill="url(#sp)" style="mix-blend-mode:lighten"/>
<path d="M0 1Q0.303 0.175 0.866 -0.5Q0 -0.35 -0.866 -0.5Q-0.303 0.175 0 1Z" transform="translate(83.60 530.60) scale(13.20 -13.20)" fill="rgb(122,122,122)" style="mix-blend-mode:lighten"/>
<path d="M0 1Q0.303 0.175 0.866 -0.5Q0 -0.35 -0.866 -0.5Q-0.303 0.175 0 1Z" transform="translate(83.60 530.60) scale(12.00 -12.00)" fill="rgb(135,135,135)" style="mix-blend-mode:lighten"/>
<path d="M0 1Q0.303 0.175 0.866 -0.5Q0 -0.35 -0.866 -0.5Q-0.303 0.175 0 1Z" transform="translate(83.60 530.60) scale(10.80 -10.80)" fill="rgb(153,153,153)" style="mix-blend-mode:lighten"/>
<path d="M0 1Q0.303 0.175 0.866 -0.5Q0 -0.35 -0.866 -0.5Q-0.303 0.175 0 1Z" transform="translate(83.60 530.60) scale(9.70 -9.70)" fill="rgb(171,171,171)" style="mix-blend-mode:lighten"/>
<path d="M0 1Q0.303 0.175 0.866 -0.5Q0 -0.35 -0.866 -0.5Q-0.303 0.175 0 1Z" transform="translate(83.60 530.60) scale(8.60 -8.60)" fill="rgb(184,184,184)" style="mix-blend-mode:lighten"/>
<path d="M0 1Q0.303 0.175 0.866 -0.5Q0 -0.35 -0.866 -0.5Q-0.303 0.175 0 1Z" transform="translate(83.60 530.60) scale(7.40 -7.40)" fill="rgb(194,194,194)" style="mix-blend-mode:lighten"/>
<path d="M0 1Q0.303 0.175 0.866 -0.5Q0 -0.35 -0.866 -0.5Q-0.303 0.175 0 1Z" transform="translate(83.60 530.60) scale(6.00 -6.00)" fill="rgb(204,204,204)" style="mix-blend-mode:lighten"/>
<ellipse cx="0" cy="0" rx="1.80" ry="3.20" transform="translate(83.60 526.40) rotate(0)" fill="url(#sp)" style="mix-blend-mode:lighten"/>
<ellipse cx="0" cy="0" rx="1.80" ry="3.20" transform="translate(87.24 532.70) rotate(120)" fill="url(#sp)" style="mix-blend-mode:lighten"/>
<ellipse cx="0" cy="0" rx="1.80" ry="3.20" transform="translate(79.96 532.70) rotate(240)" fill="url(#sp)" style="mix-blend-mode:lighten"/>
<path d="M0 1Q0.303 0.175 0.866 -0.5Q0 -0.35 -0.866 -0.5Q-0.303 0.175 0 1Z" transform="translate(144.80 530.60) scale(13.20 -13.20)" fill="rgb(122,122,122)" style="mix-blend-mode:lighten"/>
<path d="M0 1Q0.303 0.175 0.866 -0.5Q0 -0.35 -0.866 -0.5Q-0.303 0.175 0 1Z" transform="translate(144.80 530.60) scale(12.00 -12.00)" fill="rgb(135,135,135)" style="mix-blend-mode:lighten"/>
<path d="M0 1Q0.303 0.175 0.866 -0.5Q0 -0.35 -0.866 -0.5Q-0.303 0.175 0 1Z" transform="translate(144.80 530.60) scale(10.80 -10.80)" fill="rgb(153,153,153)" style="mix-blend-mode:lighten"/>
<path d="M0 1Q0.303 0.175 0.866 -0.5Q0 -0.35 -0.866 -0.5Q-0.303 0.175 0 1Z" transform="translate(144.80 530.60) scale(9.70 -9.70)" fill="rgb(171,171,171)" style="mix-blend-mode:lighten"/>
<path d="M0 1Q0.303 0.175 0.866 -0.5Q0 -0.35 -0.866 -0.5Q-0.303 0.175 0 1Z" transform="translate(144.80 530.60) scale(8.60 -8.60)" fill="rgb(184,184,184)" style="mix-blend-mode:lighten"/>
<path d="M0 1Q0.303 0.175 0.866 -0.5Q0 -0.35 -0.866 -0.5Q-0.303 0.175 0 1Z" transform="translate(144.80 530.60) scale(7.40 -7.40)" fill="rgb(194,194,194)" style="mix-blend-mode:lighten"/>
<path d="M0 1Q0.303 0.175 0.866 -0.5Q0 -0.35 -0.866 -0.5Q-0.303 0.175 0 1Z" transform="translate(144.80 530.60) scale(6.00 -6.00)" fill="rgb(204,204,204)" style="mix-blend-mode:lighten"/>
<ellipse cx="0" cy="0" rx="1.80" ry="3.20" transform="translate(144.80 526.40) rotate(0)" fill="url(#sp)" style="mix-blend-mode:lighten"/>
<ellipse cx="0" cy="0" rx="1.80" ry="3.20" transform="translate(148.44 532.70) rotate(120)" fill="url(#sp)" style="mix-blend-mode:lighten"/>
<ellipse cx="0" cy="0" rx="1.80" ry="3.20" transform="translate(141.16 532.70) rotate(240)" fill="url(#sp)" style="mix-blend-mode:lighten"/>
<path d="M0 1Q0.303 0.175 0.866 -0.5Q0 -0.35 -0.866 -0.5Q-0.303 0.175 0 1Z" transform="translate(206.00 530.60) scale(13.20 -13.20)" fill="rgb(122,122,122)" style="mix-blend-mode:lighten"/>
<path d="M0 1Q0.303 0.175 0.866 -0.5Q0 -0.35 -0.866 -0.5Q-0.303 0.175 0 1Z" transform="translate(206.00 530.60) scale(12.00 -12.00)" fill="rgb(135,135,135)" style="mix-blend-mode:lighten"/>
<path d="M0 1Q0.303 0.175 0.866 -0.5Q0 -0.35 -0.866 -0.5Q-0.303 0.175 0 1Z" transform="translate(206.00 530.60) scale(10.80 -10.80)" fill="rgb(153,153,153)" style="mix-blend-mode:lighten"/>
<path d="M0 1Q0.303 0.175 0.866 -0.5Q0 -0.35 -0.866 -0.5Q-0.303 0.175 0 1Z" transform="translate(206.00 530.60) scale(9.70 -9.70)" fill="rgb(171,171,171)" style="mix-blend-mode:lighten"/>
<path d="M0 1Q0.303 0.175 0.866 -0.5Q0 -0.35 -0.866 -0.5Q-0.303 0.175 0 1Z" transform="translate(206.00 530.60) scale(8.60 -8.60)" fill="rgb(184,184,184)" style="mix-blend-mode:lighten"/>
<path d="M0 1Q0.303 0.175 0.866 -0.5Q0 -0.35 -0.866 -0.5Q-0.303 0.175 0 1Z" transform="translate(206.00 530.60) scale(7.40 -7.40)" fill="rgb(194,194,194)" style="mix-blend-mode:lighten"/>
<path d="M0 1Q0.303 0.175 0.866 -0.5Q0 -0.35 -0.866 -0.5Q-0.303 0.175 0 1Z" transform="translate(206.00 530.60) scale(6.00 -6.00)" fill="rgb(204,204,204)" style="mix-blend-mode:lighten"/>
<ellipse cx="0" cy="0" rx="1.80" ry="3.20" transform="translate(206.00 526.40) rotate(0)" fill="url(#sp)" style="mix-blend-mode:lighten"/>
<ellipse cx="0" cy="0" rx="1.80" ry="3.20" transform="translate(209.64 532.70) rotate(120)" fill="url(#sp)" style="mix-blend-mode:lighten"/>
<ellipse cx="0" cy="0" rx="1.80" ry="3.20" transform="translate(202.36 532.70) rotate(240)" fill="url(#sp)" style="mix-blend-mode:lighten"/>
</g>
</g>
<text class="sf" x="114.80" y="517.30" font-size="10.2" text-anchor="middle">Γ</text>
<text class="sf" x="152.20" y="503.60" font-size="10.2">K</text>
<text class="sf" x="152.20" y="527.70" font-size="10.2">K′</text>
<text x="203.40" y="561.40" font-size="10.65" text-anchor="end">10<tspan dy="-4.6" font-size="7.2">3</tspan><tspan dy="4.6"> a.u.</tspan></text>
<rect x="21.90" y="459.30" width="184.50" height="107.10" fill="none" stroke="#4a4a4a" stroke-width="0.9"/>
<text x="-0.3" y="468.30" font-size="12.2" fill="#111">(d)</text>
<rect x="21.60" y="570.30" width="185.10" height="5.50" fill="url(#cb)"/>
<text x="22.20" y="586.90" font-size="11" text-anchor="middle">0.0</text>
<line x1="52.90" y1="574.20" x2="52.90" y2="575.80" stroke="#203040" stroke-opacity="0.7" stroke-width="0.7"/>
<text x="52.90" y="586.90" font-size="11" text-anchor="middle">-0.1</text>
<line x1="83.60" y1="574.20" x2="83.60" y2="575.80" stroke="#203040" stroke-opacity="0.7" stroke-width="0.7"/>
<text x="83.60" y="586.90" font-size="11" text-anchor="middle">-0.2</text>
<line x1="114.30" y1="574.20" x2="114.30" y2="575.80" stroke="#203040" stroke-opacity="0.7" stroke-width="0.7"/>
<text x="114.30" y="586.90" font-size="11" text-anchor="middle">-0.3</text>
<line x1="145.00" y1="574.20" x2="145.00" y2="575.80" stroke="#203040" stroke-opacity="0.7" stroke-width="0.7"/>
<text x="145.00" y="586.90" font-size="11" text-anchor="middle">-0.4</text>
<line x1="175.70" y1="574.20" x2="175.70" y2="575.80" stroke="#203040" stroke-opacity="0.7" stroke-width="0.7"/>
<text x="175.70" y="586.90" font-size="11" text-anchor="middle">-0.5</text>
<text x="206.40" y="586.90" font-size="11" text-anchor="middle">-0.6</text>
<line x1="258.60" y1="95.40" x2="442.20" y2="95.40" stroke="#ececec" stroke-width="0.7"/>
<line x1="258.60" y1="57.00" x2="442.20" y2="57.00" stroke="#ececec" stroke-width="0.7"/>
<line x1="258.60" y1="18.60" x2="442.20" y2="18.60" stroke="#ececec" stroke-width="0.7"/>
<line x1="350.45" y1="3.20" x2="350.45" y2="111.00" stroke="#ececec" stroke-width="0.7"/>
<polyline points="258.2,91.0 261.8,90.1 265.6,89.4 269.2,88.5 273.1,87.6 276.9,86.7 280.5,85.8 284.3,84.7 288.2,83.3 291.8,81.9 295.6,80.4 299.5,78.6 303.1,76.3 306.9,73.4 310.8,70.2 314.4,66.8 318.4,63.4 322.0,58.2 325.9,51.9 329.3,42.5 333.2,31.1 336.0,18.6 340.0,18.6 344.1,18.6 348.2,18.6 352.2,18.6 356.3,18.6 360.4,18.6 364.7,18.6 367.4,30.7 371.2,42.4 374.8,51.5 378.7,56.9 382.5,61.2 386.1,64.6 390.0,67.3 393.6,69.5 397.4,71.6 401.2,73.1 405.1,74.5 408.7,75.6 412.5,76.7 416.4,77.4 420.2,78.1 423.8,78.3 427.7,78.1 431.5,77.2 435.1,75.6 438.9,71.8 442.3,67.0" fill="none" stroke="#777" stroke-width="0.6"/>
<clipPath id="pc0"><rect x="258.10" y="3.20" width="184.90" height="107.80"/></clipPath>
<g clip-path="url(#pc0)" fill="#000">
<circle cx="258.2" cy="91.0" r="1.58"/>
<circle cx="261.8" cy="90.1" r="1.58"/>
<circle cx="265.6" cy="89.4" r="1.58"/>
<circle cx="269.2" cy="88.5" r="1.58"/>
<circle cx="273.1" cy="87.6" r="1.58"/>
<circle cx="276.9" cy="86.7" r="1.58"/>
<circle cx="280.5" cy="85.8" r="1.58"/>
<circle cx="284.3" cy="84.7" r="1.58"/>
<circle cx="288.2" cy="83.3" r="1.58"/>
<circle cx="291.8" cy="81.9" r="1.58"/>
<circle cx="295.6" cy="80.4" r="1.58"/>
<circle cx="299.5" cy="78.6" r="1.58"/>
<circle cx="303.1" cy="76.3" r="1.58"/>
<circle cx="306.9" cy="73.4" r="1.58"/>
<circle cx="310.8" cy="70.2" r="1.58"/>
<circle cx="314.4" cy="66.8" r="1.58"/>
<circle cx="318.4" cy="63.4" r="1.58"/>
<circle cx="322.0" cy="58.2" r="1.58"/>
<circle cx="325.9" cy="51.9" r="1.58"/>
<circle cx="329.3" cy="42.5" r="1.58"/>
<circle cx="333.2" cy="31.1" r="1.58"/>
<circle cx="336.0" cy="18.6" r="1.58"/>
<circle cx="340.0" cy="18.6" r="1.58"/>
<circle cx="344.1" cy="18.6" r="1.58"/>
<circle cx="348.2" cy="18.6" r="1.58"/>
<circle cx="352.2" cy="18.6" r="1.58"/>
<circle cx="356.3" cy="18.6" r="1.58"/>
<circle cx="360.4" cy="18.6" r="1.58"/>
<circle cx="364.7" cy="18.6" r="1.58"/>
<circle cx="367.4" cy="30.7" r="1.58"/>
<circle cx="371.2" cy="42.4" r="1.58"/>
<circle cx="374.8" cy="51.5" r="1.58"/>
<circle cx="378.7" cy="56.9" r="1.58"/>
<circle cx="382.5" cy="61.2" r="1.58"/>
<circle cx="386.1" cy="64.6" r="1.58"/>
<circle cx="390.0" cy="67.3" r="1.58"/>
<circle cx="393.6" cy="69.5" r="1.58"/>
<circle cx="397.4" cy="71.6" r="1.58"/>
<circle cx="401.2" cy="73.1" r="1.58"/>
<circle cx="405.1" cy="74.5" r="1.58"/>
<circle cx="408.7" cy="75.6" r="1.58"/>
<circle cx="412.5" cy="76.7" r="1.58"/>
<circle cx="416.4" cy="77.4" r="1.58"/>
<circle cx="420.2" cy="78.1" r="1.58"/>
<circle cx="423.8" cy="78.3" r="1.58"/>
<circle cx="427.7" cy="78.1" r="1.58"/>
<circle cx="431.5" cy="77.2" r="1.58"/>
<circle cx="435.1" cy="75.6" r="1.58"/>
<circle cx="438.9" cy="71.8" r="1.58"/>
<circle cx="442.3" cy="67.0" r="1.58"/>
</g>
<rect x="258.60" y="3.20" width="183.60" height="107.80" fill="none" stroke="#505050" stroke-width="1.15"/>
<path d="M258.05 111.00v2.1M265.75 111.00v2.1M273.45 111.00v3.7M281.15 111.00v2.1M288.85 111.00v2.1M296.55 111.00v2.1M304.25 111.00v2.1M311.95 111.00v3.7M319.65 111.00v2.1M327.35 111.00v2.1M335.05 111.00v2.1M342.75 111.00v2.1M350.45 111.00v3.7M358.15 111.00v2.1M365.85 111.00v2.1M373.55 111.00v2.1M381.25 111.00v2.1M388.95 111.00v3.7M396.65 111.00v2.1M404.35 111.00v2.1M412.05 111.00v2.1M419.75 111.00v2.1M427.45 111.00v3.7M435.15 111.00v2.1M442.85 111.00v2.1M258.60 110.76h-2.1M258.60 103.08h-2.1M258.60 95.40h-3.7M258.60 87.72h-2.1M258.60 80.04h-2.1M258.60 72.36h-2.1M258.60 64.68h-2.1M258.60 57.00h-3.7M258.60 49.32h-2.1M258.60 41.64h-2.1M258.60 33.96h-2.1M258.60 26.28h-2.1M258.60 18.60h-3.7M258.60 10.92h-2.1M258.60 3.24h-2.1" stroke="#505050" stroke-width="0.9" fill="none"/>
<text x="273.95" y="125.30" font-size="11.55" text-anchor="middle">-0.10</text>
<text x="312.45" y="125.30" font-size="11.55" text-anchor="middle">-0.05</text>
<text x="350.45" y="125.30" font-size="11.55" text-anchor="middle">0.00</text>
<text x="388.95" y="125.30" font-size="11.55" text-anchor="middle">0.05</text>
<text x="427.45" y="125.30" font-size="11.55" text-anchor="middle">0.10</text>
<text x="253.10" y="99.60" font-size="11.55" text-anchor="end">0.0</text>
<text x="253.10" y="61.20" font-size="11.55" text-anchor="end">0.5</text>
<text x="253.10" y="22.80" font-size="11.55" text-anchor="end">1.0</text>
<text x="350.40" y="139.00" font-size="11.4" text-anchor="middle">Energy (eV)</text>
<text transform="translate(230.40 57.10) rotate(-90)" font-size="11.4" text-anchor="middle">σ<tspan dy="2.6" font-size="7.8">xy</tspan><tspan dy="-2.6"> (e</tspan><tspan dy="-4.4" font-size="7.8">2</tspan><tspan dy="4.4">/h)</tspan></text>
<line x1="258.60" y1="244.50" x2="442.20" y2="244.50" stroke="#ececec" stroke-width="0.7"/>
<line x1="258.60" y1="206.25" x2="442.20" y2="206.25" stroke="#ececec" stroke-width="0.7"/>
<line x1="258.60" y1="168.00" x2="442.20" y2="168.00" stroke="#ececec" stroke-width="0.7"/>
<line x1="350.45" y1="152.80" x2="350.45" y2="260.20" stroke="#ececec" stroke-width="0.7"/>
<polyline points="258.2,219.5 261.8,219.1 265.6,218.6 269.2,218.2 273.1,217.7 276.9,217.3 280.5,216.6 284.3,215.9 288.2,215.0 291.8,213.7 295.6,212.3 299.5,210.5 303.1,208.5 306.9,205.8 310.8,202.8 314.6,199.0 318.4,194.7 322.0,188.5 325.8,181.1 329.5,173.0 331.9,168.1 336.0,168.1 340.0,168.1 344.1,168.1 348.2,168.1 352.2,168.1 356.3,168.1 360.4,168.1 364.7,168.1 368.8,168.1 371.2,173.0 374.8,179.9 378.7,187.0 382.5,192.2 386.1,198.5 390.0,203.5 393.8,209.4 397.4,214.8 401.2,219.5 405.1,223.6 408.7,226.7 412.5,229.2 416.4,230.6 420.2,231.5 423.8,229.9 427.7,227.9 431.5,223.1 435.1,218.6 438.9,214.8 442.3,210.3" fill="none" stroke="#777" stroke-width="0.6"/>
<clipPath id="pc1"><rect x="258.10" y="152.80" width="184.90" height="107.40"/></clipPath>
<g clip-path="url(#pc1)" fill="#000">
<circle cx="258.2" cy="219.5" r="1.58"/>
<circle cx="261.8" cy="219.1" r="1.58"/>
<circle cx="265.6" cy="218.6" r="1.58"/>
<circle cx="269.2" cy="218.2" r="1.58"/>
<circle cx="273.1" cy="217.7" r="1.58"/>
<circle cx="276.9" cy="217.3" r="1.58"/>
<circle cx="280.5" cy="216.6" r="1.58"/>
<circle cx="284.3" cy="215.9" r="1.58"/>
<circle cx="288.2" cy="215.0" r="1.58"/>
<circle cx="291.8" cy="213.7" r="1.58"/>
<circle cx="295.6" cy="212.3" r="1.58"/>
<circle cx="299.5" cy="210.5" r="1.58"/>
<circle cx="303.1" cy="208.5" r="1.58"/>
<circle cx="306.9" cy="205.8" r="1.58"/>
<circle cx="310.8" cy="202.8" r="1.58"/>
<circle cx="314.6" cy="199.0" r="1.58"/>
<circle cx="318.4" cy="194.7" r="1.58"/>
<circle cx="322.0" cy="188.5" r="1.58"/>
<circle cx="325.8" cy="181.1" r="1.58"/>
<circle cx="329.5" cy="173.0" r="1.58"/>
<circle cx="331.9" cy="168.1" r="1.58"/>
<circle cx="336.0" cy="168.1" r="1.58"/>
<circle cx="340.0" cy="168.1" r="1.58"/>
<circle cx="344.1" cy="168.1" r="1.58"/>
<circle cx="348.2" cy="168.1" r="1.58"/>
<circle cx="352.2" cy="168.1" r="1.58"/>
<circle cx="356.3" cy="168.1" r="1.58"/>
<circle cx="360.4" cy="168.1" r="1.58"/>
<circle cx="364.7" cy="168.1" r="1.58"/>
<circle cx="368.8" cy="168.1" r="1.58"/>
<circle cx="371.2" cy="173.0" r="1.58"/>
<circle cx="374.8" cy="179.9" r="1.58"/>
<circle cx="378.7" cy="187.0" r="1.58"/>
<circle cx="382.5" cy="192.2" r="1.58"/>
<circle cx="386.1" cy="198.5" r="1.58"/>
<circle cx="390.0" cy="203.5" r="1.58"/>
<circle cx="393.8" cy="209.4" r="1.58"/>
<circle cx="397.4" cy="214.8" r="1.58"/>
<circle cx="401.2" cy="219.5" r="1.58"/>
<circle cx="405.1" cy="223.6" r="1.58"/>
<circle cx="408.7" cy="226.7" r="1.58"/>
<circle cx="412.5" cy="229.2" r="1.58"/>
<circle cx="416.4" cy="230.6" r="1.58"/>
<circle cx="420.2" cy="231.5" r="1.58"/>
<circle cx="423.8" cy="229.9" r="1.58"/>
<circle cx="427.7" cy="227.9" r="1.58"/>
<circle cx="431.5" cy="223.1" r="1.58"/>
<circle cx="435.1" cy="218.6" r="1.58"/>
<circle cx="438.9" cy="214.8" r="1.58"/>
<circle cx="442.3" cy="210.3" r="1.58"/>
</g>
<rect x="258.60" y="152.80" width="183.60" height="107.40" fill="none" stroke="#505050" stroke-width="1.15"/>
<path d="M258.05 260.20v2.1M265.75 260.20v2.1M273.45 260.20v3.7M281.15 260.20v2.1M288.85 260.20v2.1M296.55 260.20v2.1M304.25 260.20v2.1M311.95 260.20v3.7M319.65 260.20v2.1M327.35 260.20v2.1M335.05 260.20v2.1M342.75 260.20v2.1M350.45 260.20v3.7M358.15 260.20v2.1M365.85 260.20v2.1M373.55 260.20v2.1M381.25 260.20v2.1M388.95 260.20v3.7M396.65 260.20v2.1M404.35 260.20v2.1M412.05 260.20v2.1M419.75 260.20v2.1M427.45 260.20v3.7M435.15 260.20v2.1M442.85 260.20v2.1M258.60 259.80h-2.1M258.60 252.15h-2.1M258.60 244.50h-3.7M258.60 236.85h-2.1M258.60 229.20h-2.1M258.60 221.55h-2.1M258.60 213.90h-2.1M258.60 206.25h-3.7M258.60 198.60h-2.1M258.60 190.95h-2.1M258.60 183.30h-2.1M258.60 175.65h-2.1M258.60 168.00h-3.7M258.60 160.35h-2.1M258.60 152.70h-2.1" stroke="#505050" stroke-width="0.9" fill="none"/>
<text x="273.95" y="274.50" font-size="11.55" text-anchor="middle">-0.10</text>
<text x="312.45" y="274.50" font-size="11.55" text-anchor="middle">-0.05</text>
<text x="350.45" y="274.50" font-size="11.55" text-anchor="middle">0.00</text>
<text x="388.95" y="274.50" font-size="11.55" text-anchor="middle">0.05</text>
<text x="427.45" y="274.50" font-size="11.55" text-anchor="middle">0.10</text>
<text x="253.10" y="248.70" font-size="11.55" text-anchor="end">0.0</text>
<text x="253.10" y="210.45" font-size="11.55" text-anchor="end">0.5</text>
<text x="253.10" y="172.20" font-size="11.55" text-anchor="end">1.0</text>
<text x="350.40" y="288.20" font-size="11.4" text-anchor="middle">Energy (eV)</text>
<text transform="translate(231.60 206.50) rotate(-90)" font-size="11.4" text-anchor="middle">σ<tspan dy="2.6" font-size="7.8">xy</tspan><tspan dy="-2.6"> (e</tspan><tspan dy="-4.4" font-size="7.8">2</tspan><tspan dy="4.4">/h)</tspan></text>
<line x1="258.60" y1="397.10" x2="442.20" y2="397.10" stroke="#ececec" stroke-width="0.7"/>
<line x1="258.60" y1="358.80" x2="442.20" y2="358.80" stroke="#ececec" stroke-width="0.7"/>
<line x1="258.60" y1="320.50" x2="442.20" y2="320.50" stroke="#ececec" stroke-width="0.7"/>
<line x1="350.45" y1="305.30" x2="350.45" y2="412.90" stroke="#ececec" stroke-width="0.7"/>
<polyline points="258.2,331.6 261.8,333.6 265.6,335.6 269.2,338.6 273.1,341.5 276.9,344.2 280.5,346.9 284.3,349.4 288.2,352.1 291.8,355.0 295.6,358.2 299.2,363.4 303.1,369.7 306.9,373.1 310.8,375.4 314.6,376.5 318.4,377.6 322.0,379.2 325.7,381.3 329.3,387.6 333.0,397.1 336.8,397.1 340.6,397.1 344.4,397.1 348.2,397.1 352.0,397.1 355.8,397.1 359.6,397.1 363.3,397.1 367.1,397.1 370.9,397.1 374.6,386.7 378.4,381.5 382.3,375.8 385.9,371.5 389.7,367.0 393.6,362.9 397.4,359.3 401.2,355.7 404.9,351.9 408.7,347.8 412.5,343.1 416.4,335.4 420.0,326.2 423.8,308.8" fill="none" stroke="#777" stroke-width="0.6"/>
<clipPath id="pc2"><rect x="258.10" y="305.30" width="184.90" height="107.60"/></clipPath>
<g clip-path="url(#pc2)" fill="#000">
<circle cx="258.2" cy="331.6" r="1.58"/>
<circle cx="261.8" cy="333.6" r="1.58"/>
<circle cx="265.6" cy="335.6" r="1.58"/>
<circle cx="269.2" cy="338.6" r="1.58"/>
<circle cx="273.1" cy="341.5" r="1.58"/>
<circle cx="276.9" cy="344.2" r="1.58"/>
<circle cx="280.5" cy="346.9" r="1.58"/>
<circle cx="284.3" cy="349.4" r="1.58"/>
<circle cx="288.2" cy="352.1" r="1.58"/>
<circle cx="291.8" cy="355.0" r="1.58"/>
<circle cx="295.6" cy="358.2" r="1.58"/>
<circle cx="299.2" cy="363.4" r="1.58"/>
<circle cx="303.1" cy="369.7" r="1.58"/>
<circle cx="306.9" cy="373.1" r="1.58"/>
<circle cx="310.8" cy="375.4" r="1.58"/>
<circle cx="314.6" cy="376.5" r="1.58"/>
<circle cx="318.4" cy="377.6" r="1.58"/>
<circle cx="322.0" cy="379.2" r="1.58"/>
<circle cx="325.7" cy="381.3" r="1.58"/>
<circle cx="329.3" cy="387.6" r="1.58"/>
<circle cx="333.0" cy="397.1" r="1.58"/>
<circle cx="336.8" cy="397.1" r="1.58"/>
<circle cx="340.6" cy="397.1" r="1.58"/>
<circle cx="344.4" cy="397.1" r="1.58"/>
<circle cx="348.2" cy="397.1" r="1.58"/>
<circle cx="352.0" cy="397.1" r="1.58"/>
<circle cx="355.8" cy="397.1" r="1.58"/>
<circle cx="359.6" cy="397.1" r="1.58"/>
<circle cx="363.3" cy="397.1" r="1.58"/>
<circle cx="367.1" cy="397.1" r="1.58"/>
<circle cx="370.9" cy="397.1" r="1.58"/>
<circle cx="374.6" cy="386.7" r="1.58"/>
<circle cx="378.4" cy="381.5" r="1.58"/>
<circle cx="382.3" cy="375.8" r="1.58"/>
<circle cx="385.9" cy="371.5" r="1.58"/>
<circle cx="389.7" cy="367.0" r="1.58"/>
<circle cx="393.6" cy="362.9" r="1.58"/>
<circle cx="397.4" cy="359.3" r="1.58"/>
<circle cx="401.2" cy="355.7" r="1.58"/>
<circle cx="404.9" cy="351.9" r="1.58"/>
<circle cx="408.7" cy="347.8" r="1.58"/>
<circle cx="412.5" cy="343.1" r="1.58"/>
<circle cx="416.4" cy="335.4" r="1.58"/>
<circle cx="420.0" cy="326.2" r="1.58"/>
<circle cx="423.8" cy="308.8" r="1.58"/>
</g>
<rect x="258.60" y="305.30" width="183.60" height="107.60" fill="none" stroke="#505050" stroke-width="1.15"/>
<path d="M258.05 412.90v2.1M265.75 412.90v2.1M273.45 412.90v3.7M281.15 412.90v2.1M288.85 412.90v2.1M296.55 412.90v2.1M304.25 412.90v2.1M311.95 412.90v3.7M319.65 412.90v2.1M327.35 412.90v2.1M335.05 412.90v2.1M342.75 412.90v2.1M350.45 412.90v3.7M358.15 412.90v2.1M365.85 412.90v2.1M373.55 412.90v2.1M381.25 412.90v2.1M388.95 412.90v3.7M396.65 412.90v2.1M404.35 412.90v2.1M412.05 412.90v2.1M419.75 412.90v2.1M427.45 412.90v3.7M435.15 412.90v2.1M442.85 412.90v2.1M258.60 412.42h-2.1M258.60 404.76h-2.1M258.60 397.10h-3.7M258.60 389.44h-2.1M258.60 381.78h-2.1M258.60 374.12h-2.1M258.60 366.46h-2.1M258.60 358.80h-3.7M258.60 351.14h-2.1M258.60 343.48h-2.1M258.60 335.82h-2.1M258.60 328.16h-2.1M258.60 320.50h-3.7M258.60 312.84h-2.1M258.60 305.18h-2.1" stroke="#505050" stroke-width="0.9" fill="none"/>
<text x="273.95" y="427.20" font-size="11.55" text-anchor="middle">-0.10</text>
<text x="312.45" y="427.20" font-size="11.55" text-anchor="middle">-0.05</text>
<text x="350.45" y="427.20" font-size="11.55" text-anchor="middle">0.00</text>
<text x="388.95" y="427.20" font-size="11.55" text-anchor="middle">0.05</text>
<text x="427.45" y="427.20" font-size="11.55" text-anchor="middle">0.10</text>
<text x="253.10" y="401.30" font-size="11.55" text-anchor="end">-1.0</text>
<text x="253.10" y="363.00" font-size="11.55" text-anchor="end">-0.5</text>
<text x="253.10" y="324.70" font-size="11.55" text-anchor="end">0.0</text>
<text x="350.40" y="440.90" font-size="11.4" text-anchor="middle">Energy (eV)</text>
<text transform="translate(226.80 359.90) rotate(-90)" font-size="11.4" text-anchor="middle">σ<tspan dy="2.6" font-size="7.8">xy</tspan><tspan dy="-2.6"> (e</tspan><tspan dy="-4.4" font-size="7.8">2</tspan><tspan dy="4.4">/h)</tspan></text>
<line x1="258.60" y1="551.10" x2="442.20" y2="551.10" stroke="#ececec" stroke-width="0.7"/>
<line x1="258.60" y1="512.80" x2="442.20" y2="512.80" stroke="#ececec" stroke-width="0.7"/>
<line x1="258.60" y1="474.50" x2="442.20" y2="474.50" stroke="#ececec" stroke-width="0.7"/>
<line x1="350.45" y1="458.90" x2="350.45" y2="566.80" stroke="#ececec" stroke-width="0.7"/>
<polyline points="260.0,497.4 263.8,502.6 267.6,507.4 271.5,511.9 275.3,515.9 279.2,519.6 282.8,520.9 286.6,521.1 290.4,518.7 294.3,515.9 297.9,514.8 301.7,513.7 305.6,515.0 309.4,517.3 313.2,520.2 316.9,523.4 320.7,527.0 324.5,531.1 328.4,535.6 332.0,540.6 335.8,545.1 339.7,548.5 343.4,550.8 347.1,550.8 350.9,550.8 354.7,550.8 358.4,550.8 362.2,550.8 366.0,550.8 369.7,550.8 373.5,550.8 377.3,550.8 381.0,550.8 384.8,550.8 388.6,550.8 392.3,550.8 396.0,550.8 399.9,547.1 403.5,542.1 407.3,538.3 411.2,534.9 414.8,532.2 418.6,528.6 422.5,524.3 426.3,519.3 430.1,513.9 433.7,508.0 437.6,498.3 441.4,489.1" fill="none" stroke="#777" stroke-width="0.6"/>
<clipPath id="pc3"><rect x="258.10" y="458.90" width="184.90" height="107.90"/></clipPath>
<g clip-path="url(#pc3)" fill="#000">
<circle cx="260.0" cy="497.4" r="1.58"/>
<circle cx="263.8" cy="502.6" r="1.58"/>
<circle cx="267.6" cy="507.4" r="1.58"/>
<circle cx="271.5" cy="511.9" r="1.58"/>
<circle cx="275.3" cy="515.9" r="1.58"/>
<circle cx="279.2" cy="519.6" r="1.58"/>
<circle cx="282.8" cy="520.9" r="1.58"/>
<circle cx="286.6" cy="521.1" r="1.58"/>
<circle cx="290.4" cy="518.7" r="1.58"/>
<circle cx="294.3" cy="515.9" r="1.58"/>
<circle cx="297.9" cy="514.8" r="1.58"/>
<circle cx="301.7" cy="513.7" r="1.58"/>
<circle cx="305.6" cy="515.0" r="1.58"/>
<circle cx="309.4" cy="517.3" r="1.58"/>
<circle cx="313.2" cy="520.2" r="1.58"/>
<circle cx="316.9" cy="523.4" r="1.58"/>
<circle cx="320.7" cy="527.0" r="1.58"/>
<circle cx="324.5" cy="531.1" r="1.58"/>
<circle cx="328.4" cy="535.6" r="1.58"/>
<circle cx="332.0" cy="540.6" r="1.58"/>
<circle cx="335.8" cy="545.1" r="1.58"/>
<circle cx="339.7" cy="548.5" r="1.58"/>
<circle cx="343.4" cy="550.8" r="1.58"/>
<circle cx="347.1" cy="550.8" r="1.58"/>
<circle cx="350.9" cy="550.8" r="1.58"/>
<circle cx="354.7" cy="550.8" r="1.58"/>
<circle cx="358.4" cy="550.8" r="1.58"/>
<circle cx="362.2" cy="550.8" r="1.58"/>
<circle cx="366.0" cy="550.8" r="1.58"/>
<circle cx="369.7" cy="550.8" r="1.58"/>
<circle cx="373.5" cy="550.8" r="1.58"/>
<circle cx="377.3" cy="550.8" r="1.58"/>
<circle cx="381.0" cy="550.8" r="1.58"/>
<circle cx="384.8" cy="550.8" r="1.58"/>
<circle cx="388.6" cy="550.8" r="1.58"/>
<circle cx="392.3" cy="550.8" r="1.58"/>
<circle cx="396.0" cy="550.8" r="1.58"/>
<circle cx="399.9" cy="547.1" r="1.58"/>
<circle cx="403.5" cy="542.1" r="1.58"/>
<circle cx="407.3" cy="538.3" r="1.58"/>
<circle cx="411.2" cy="534.9" r="1.58"/>
<circle cx="414.8" cy="532.2" r="1.58"/>
<circle cx="418.6" cy="528.6" r="1.58"/>
<circle cx="422.5" cy="524.3" r="1.58"/>
<circle cx="426.3" cy="519.3" r="1.58"/>
<circle cx="430.1" cy="513.9" r="1.58"/>
<circle cx="433.7" cy="508.0" r="1.58"/>
<circle cx="437.6" cy="498.3" r="1.58"/>
<circle cx="441.4" cy="489.1" r="1.58"/>
</g>
<rect x="258.60" y="458.90" width="183.60" height="107.90" fill="none" stroke="#505050" stroke-width="1.15"/>
<path d="M258.05 566.80v2.1M265.75 566.80v2.1M273.45 566.80v3.7M281.15 566.80v2.1M288.85 566.80v2.1M296.55 566.80v2.1M304.25 566.80v2.1M311.95 566.80v3.7M319.65 566.80v2.1M327.35 566.80v2.1M335.05 566.80v2.1M342.75 566.80v2.1M350.45 566.80v3.7M358.15 566.80v2.1M365.85 566.80v2.1M373.55 566.80v2.1M381.25 566.80v2.1M388.95 566.80v3.7M396.65 566.80v2.1M404.35 566.80v2.1M412.05 566.80v2.1M419.75 566.80v2.1M427.45 566.80v3.7M435.15 566.80v2.1M442.85 566.80v2.1M258.60 566.42h-2.1M258.60 558.76h-2.1M258.60 551.10h-3.7M258.60 543.44h-2.1M258.60 535.78h-2.1M258.60 528.12h-2.1M258.60 520.46h-2.1M258.60 512.80h-3.7M258.60 505.14h-2.1M258.60 497.48h-2.1M258.60 489.82h-2.1M258.60 482.16h-2.1M258.60 474.50h-3.7M258.60 466.84h-2.1M258.60 459.18h-2.1" stroke="#505050" stroke-width="0.9" fill="none"/>
<text x="273.95" y="581.10" font-size="11.55" text-anchor="middle">-0.10</text>
<text x="312.45" y="581.10" font-size="11.55" text-anchor="middle">-0.05</text>
<text x="350.45" y="581.10" font-size="11.55" text-anchor="middle">0.00</text>
<text x="388.95" y="581.10" font-size="11.55" text-anchor="middle">0.05</text>
<text x="427.45" y="581.10" font-size="11.55" text-anchor="middle">0.10</text>
<text x="253.10" y="555.30" font-size="11.55" text-anchor="end">-2</text>
<text x="253.10" y="517.00" font-size="11.55" text-anchor="end">-1</text>
<text x="253.10" y="478.70" font-size="11.55" text-anchor="end">0</text>
<text x="350.40" y="594.80" font-size="11.4" text-anchor="middle">Energy (eV)</text>
<text transform="translate(238.30 512.85) rotate(-90)" font-size="11.4" text-anchor="middle">σ<tspan dy="2.6" font-size="7.8">xy</tspan><tspan dy="-2.6"> (e</tspan><tspan dy="-4.4" font-size="7.8">2</tspan><tspan dy="4.4">/h)</tspan></text>
</svg></body></html>
